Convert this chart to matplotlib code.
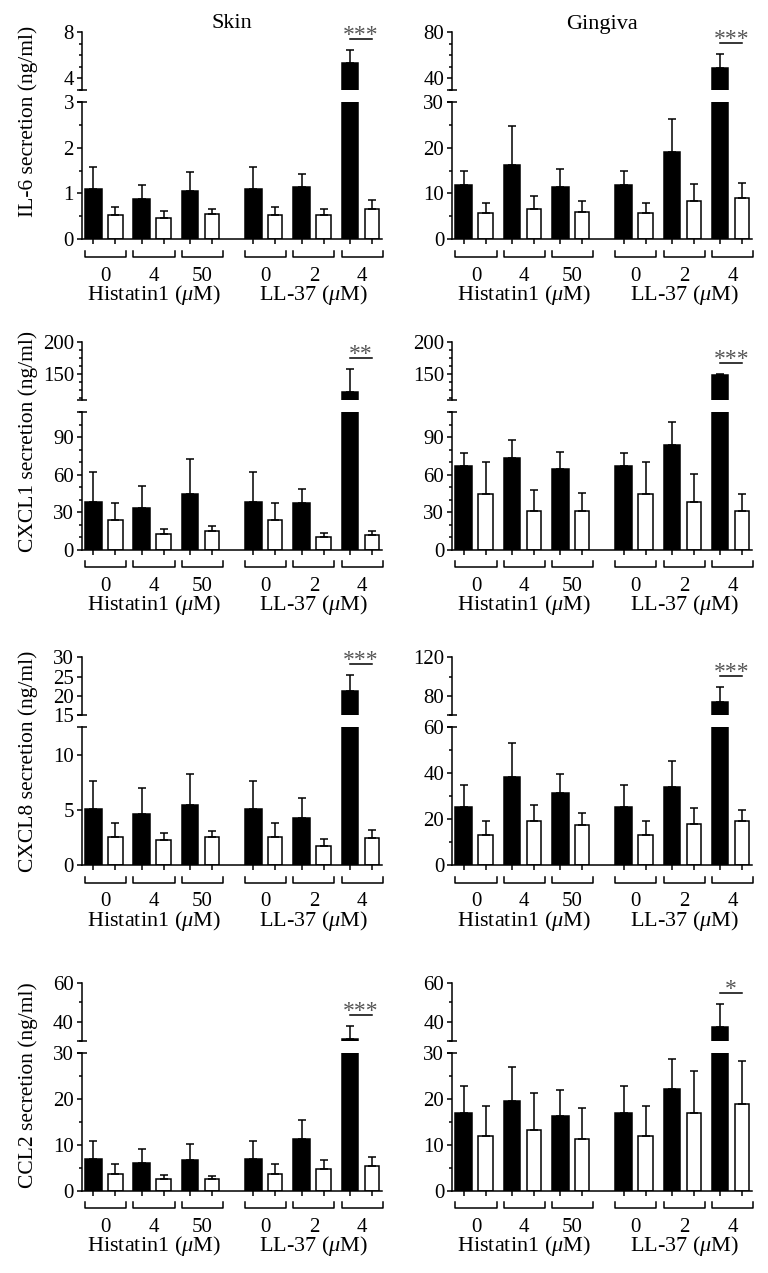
import numpy as np
import matplotlib
matplotlib.use("Agg")
import matplotlib.pyplot as plt
from matplotlib import transforms
from matplotlib.ticker import FixedLocator, MultipleLocator, NullLocator

plt.rcParams["font.family"] = ["Liberation Serif", "DejaVu Serif"]
plt.rcParams["mathtext.fontset"] = "custom"
plt.rcParams["mathtext.rm"] = "Liberation Serif"
plt.rcParams["mathtext.it"] = "Liberation Serif:italic"

# ---- data (ng/ml, mean and SD) ----
DOSES = ["0", "4", "50", "0", "2", "4"]
TISSUES = ["Skin", "Gingiva"]
CYTOKINES = ["IL-6", "CXCL1", "CXCL8", "CCL2"]

il6_skin_filled = [1.09, 0.88, 1.06, 1.09, 1.15, 5.35]
il6_skin_filled_sd = [0.48, 0.30, 0.41, 0.48, 0.28, 1.12]
il6_skin_open = [0.53, 0.47, 0.55, 0.53, 0.52, 0.66]
il6_skin_open_sd = [0.17, 0.14, 0.12, 0.17, 0.14, 0.19]

il6_ging_filled = [11.8, 16.3, 11.5, 11.8, 19.0, 49.2]
il6_ging_filled_sd = [3.1, 8.5, 3.9, 3.1, 7.2, 12.4]
il6_ging_open = [5.7, 6.7, 6.0, 5.7, 8.4, 9.0]
il6_ging_open_sd = [2.3, 2.8, 2.4, 2.3, 3.7, 3.2]

cxcl1_skin_filled = [38.2, 33.7, 44.6, 38.2, 37.2, 122.0]
cxcl1_skin_filled_sd = [23.9, 17.0, 28.1, 23.9, 11.1, 36.0]
cxcl1_skin_open = [23.4, 12.7, 14.9, 23.4, 10.1, 11.9]
cxcl1_skin_open_sd = [14.0, 4.0, 4.2, 14.0, 3.4, 3.2]

cxcl1_ging_filled = [67.2, 73.8, 64.5, 67.2, 84.2, 148.5]
cxcl1_ging_filled_sd = [10.6, 14.3, 13.8, 10.6, 18.0, 1.5]
cxcl1_ging_open = [44.3, 31.3, 31.1, 44.3, 38.2, 31.3]
cxcl1_ging_open_sd = [26.3, 16.7, 14.6, 26.3, 22.6, 13.0]

cxcl8_skin_filled = [5.07, 4.68, 5.44, 5.07, 4.29, 21.3]
cxcl8_skin_filled_sd = [2.59, 2.35, 2.82, 2.59, 1.81, 4.2]
cxcl8_skin_open = [2.52, 2.25, 2.52, 2.52, 1.77, 2.43]
cxcl8_skin_open_sd = [1.35, 0.72, 0.63, 1.35, 0.63, 0.81]

cxcl8_ging_filled = [25.2, 38.4, 31.4, 25.2, 33.9, 73.8]
cxcl8_ging_filled_sd = [9.6, 14.8, 8.5, 9.6, 11.3, 15.5]
cxcl8_ging_open = [13.2, 19.4, 17.4, 13.2, 17.8, 19.3]
cxcl8_ging_open_sd = [6.2, 7.0, 5.4, 6.2, 7.0, 4.9]

ccl2_skin_filled = [6.9, 6.0, 6.6, 6.9, 11.2, 31.0]
ccl2_skin_filled_sd = [3.9, 3.1, 3.5, 3.9, 4.1, 6.8]
ccl2_skin_open = [3.7, 2.5, 2.6, 3.7, 4.7, 5.3]
ccl2_skin_open_sd = [2.1, 0.9, 0.7, 2.1, 1.9, 2.0]

ccl2_ging_filled = [16.8, 19.6, 16.3, 16.8, 22.2, 37.3]
ccl2_ging_filled_sd = [6.0, 7.2, 5.7, 6.0, 6.4, 11.9]
ccl2_ging_open = [11.9, 13.3, 11.2, 11.9, 16.8, 18.8]
ccl2_ging_open_sd = [6.5, 7.9, 6.8, 6.5, 9.3, 9.5]

SIGNIF = [["***", "***"], ["**", "***"], ["***", "***"], ["***", "*"]]

PANELS = [
    [(il6_skin_filled, il6_skin_filled_sd, il6_skin_open, il6_skin_open_sd),
     (il6_ging_filled, il6_ging_filled_sd, il6_ging_open, il6_ging_open_sd)],
    [(cxcl1_skin_filled, cxcl1_skin_filled_sd, cxcl1_skin_open, cxcl1_skin_open_sd),
     (cxcl1_ging_filled, cxcl1_ging_filled_sd, cxcl1_ging_open, cxcl1_ging_open_sd)],
    [(cxcl8_skin_filled, cxcl8_skin_filled_sd, cxcl8_skin_open, cxcl8_skin_open_sd),
     (cxcl8_ging_filled, cxcl8_ging_filled_sd, cxcl8_ging_open, cxcl8_ging_open_sd)],
    [(ccl2_skin_filled, ccl2_skin_filled_sd, ccl2_skin_open, ccl2_skin_open_sd),
     (ccl2_ging_filled, ccl2_ging_filled_sd, ccl2_ging_open, ccl2_ging_open_sd)],
]

# broken y-axis setup: (lower lim, lower majors, lower minor step, upper lim, upper majors, upper minor step)
SCALES = [
    [((0, 3), [0, 1, 2, 3], 0.5, (3, 8), [4, 8], 1),
     ((0, 30), [0, 10, 20, 30], 5, (30, 80), [40, 80], 10)],
    [((0, 110), [0, 30, 60, 90], 10, (110, 200), [150, 200], 12.5),
     ((0, 110), [0, 30, 60, 90], 10, (110, 200), [150, 200], 12.5)],
    [((0, 12.5), [0, 5, 10], None, (15, 30), [15, 20, 25, 30], None),
     ((0, 60), [0, 20, 40, 60], 10, (60, 120), [80, 120], 20)],
    [((0, 30), [0, 10, 20, 30], 5, (30, 60), [40, 60], 10),
     ((0, 30), [0, 10, 20, 30], 5, (30, 60), [40, 60], 10)],
]

# ---- layout (pixels) ----
W, H = 768, 1273
COL_X = [82, 452.3]
AX_W = 300
ROWS = [(32.3, 90, 101.7, 239.3), (341.7, 400, 412.3, 549.7),
        (657.3, 715.3, 727.3, 865.3), (982.7, 1041, 1052.7, 1190.7)]
YLABEL_Y = [121, 441, 761, 1085]
GROUP_POS = np.array([0, 1, 2, 3.31, 4.31, 5.31])
X_FILLED = GROUP_POS - 0.254
X_OPEN = GROUP_POS + 0.2
LW = 1.1
FS = 15

fig = plt.figure(figsize=(W / 100, H / 100), dpi=100)


def add_ax(x, top, bottom):
    return fig.add_axes([x / W, 1 - bottom / H, AX_W / W, (bottom - top) / H])


def style_y(ax, lim, majors, minor):
    ax.set_ylim(*lim)
    ax.yaxis.set_major_locator(FixedLocator(majors))
    ax.yaxis.set_minor_locator(MultipleLocator(minor) if minor else NullLocator())
    ax.tick_params(axis="y", which="major", direction="out", length=3.8, width=LW,
                   labelsize=FS, pad=2)
    ax.tick_params(axis="y", which="minor", direction="out", length=2.2, width=LW)
    ax.spines["left"].set_linewidth(LW)
    for s in ("top", "right"):
        ax.spines[s].set_visible(False)


for r in range(4):
    up_top, up_bot, lo_top, lo_bot = ROWS[r]
    for c in range(2):
        filled, filled_sd, opened, opened_sd = PANELS[r][c]
        lo_lim, lo_maj, lo_min, up_lim, up_maj, up_min = SCALES[r][c]
        ax_up = add_ax(COL_X[c], up_top, up_bot)
        ax_lo = add_ax(COL_X[c], lo_top, lo_bot)

        for ax in (ax_up, ax_lo):
            ax.bar(X_FILLED, filled, width=0.34, color="k", edgecolor="k", lw=LW, zorder=2)
            ax.bar(X_OPEN, opened, width=0.30, color="white", edgecolor="k", lw=LW, zorder=2)
            ax.errorbar(X_FILLED, filled, yerr=[np.zeros(6), filled_sd], fmt="none",
                        ecolor="k", elinewidth=LW, capsize=3, capthick=LW, zorder=3)
            ax.errorbar(X_OPEN, opened, yerr=[np.zeros(6), opened_sd], fmt="none",
                        ecolor="k", elinewidth=LW, capsize=3, capthick=LW, zorder=3)
            ax.set_xlim(-0.49, 5.72)
            ax.patch.set_alpha(0)

        style_y(ax_up, up_lim, up_maj, up_min)
        style_y(ax_lo, lo_lim, lo_maj, lo_min)
        ax_up.spines["bottom"].set_visible(False)
        ax_up.xaxis.set_major_locator(NullLocator())
        ax_lo.spines["bottom"].set_linewidth(LW)
        ax_lo.set_xticks(np.concatenate([X_FILLED, X_OPEN]))
        ax_lo.tick_params(axis="x", direction="out", length=3.5, width=LW, labelbottom=False)

        # caps at the ends of the broken spine
        ax_up.plot([0], [0], marker="_", ms=6.5, mew=LW, color="k",
                   transform=ax_up.transAxes, clip_on=False)
        ax_lo.plot([0], [1], marker="_", ms=6.5, mew=LW, color="k",
                   transform=ax_lo.transAxes, clip_on=False)

        # dose brackets and labels
        h = lo_bot - lo_top
        tr = transforms.blended_transform_factory(ax_lo.transData, ax_lo.transAxes)
        for g, dose in zip(GROUP_POS, DOSES):
            ax_lo.plot([g - 0.425, g - 0.425, g + 0.425, g + 0.425],
                       [-11.4 / h, -17.4 / h, -17.4 / h, -11.4 / h],
                       transform=tr, clip_on=False, color="k", lw=LW)
            ax_lo.text(g, -36.7 / h, dose, transform=tr, ha="center", va="center", fontsize=FS)
        ax_lo.text(GROUP_POS[1], -55.7 / h, "Histatin1 ($\\mu$M)", transform=tr,
                   ha="center", va="center", fontsize=FS + 1)
        ax_lo.text(GROUP_POS[4], -55.7 / h, "LL-37 ($\\mu$M)", transform=tr,
                   ha="center", va="center", fontsize=FS + 1)

        # significance mark over the last group
        top = filled[5] + filled_sd[5]
        tr_line = transforms.offset_copy(ax_up.transData, fig=fig, y=11, units="dots")
        ax_up.plot([X_FILLED[5], X_OPEN[5]], [top, top], transform=tr_line,
                   clip_on=False, color="k", lw=LW)
        tr_star = transforms.offset_copy(ax_up.transData, fig=fig, y=4, units="dots")
        ax_up.text((X_FILLED[5] + X_OPEN[5]) / 2, top, SIGNIF[r][c], transform=tr_star,
                   ha="center", va="bottom", fontsize=FS + 2, color="#555")

        if r == 0:
            fig.text((COL_X[c] + AX_W / 2) / W, 1 - 24 / H, TISSUES[c],
                     ha="center", va="center", fontsize=FS + 1)
    fig.text(28 / W, 1 - YLABEL_Y[r] / H, f"{CYTOKINES[r]} secretion (ng/ml)",
             rotation=90, ha="center", va="center", fontsize=FS + 0.5)

fig.savefig("out.png", dpi=100)
